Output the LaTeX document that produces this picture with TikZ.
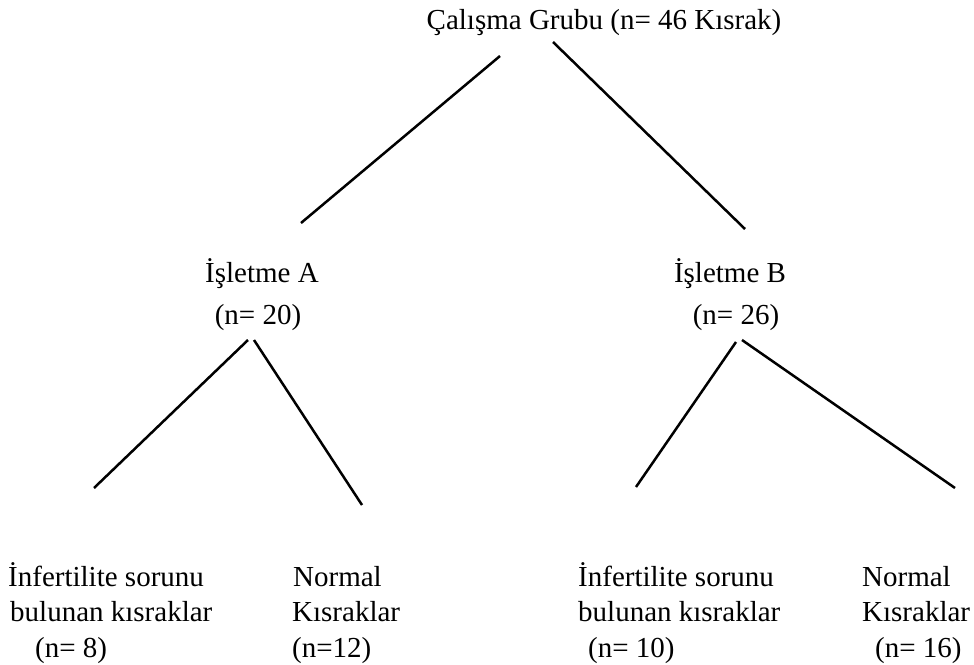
\documentclass[tikz,border=0pt]{standalone}
\usepackage{fontspec}
\setmainfont{Liberation Serif}
\begin{document}
\begin{tikzpicture}[x=1pt, y=-1pt,
    font=\fontsize{29}{34}\selectfont,
    yazi/.style={inner sep=0pt},
    kol/.style={line width=2.5pt}]
    \useasboundingbox (0,0) rectangle (974,664);
    % Çalışma grubu
    \node[yazi, anchor=base] (grup) at (604,29) {Çalışma Grubu (n= 46 Kısrak)};

    % İşletmeler
    \node[yazi, anchor=base] (isA) at (262,282) {İşletme A};
    \node[yazi, anchor=base] (nA) at (258,324) {(n= 20)};
    \node[yazi, anchor=base] (isB) at (730,282) {İşletme B};
    \node[yazi, anchor=base] (nB) at (736,324) {(n= 26)};

    % Alt gruplar, işletme A
    \node[yazi, anchor=base west] (infA1) at (8,586) {İnfertilite sorunu};
    \node[yazi, anchor=base west] (infA2) at (10,621) {bulunan kısraklar};
    \node[yazi, anchor=base west] (infA3) at (35,657) {(n= 8)};
    \node[yazi, anchor=base west] (norA1) at (293,586) {Normal};
    \node[yazi, anchor=base west] (norA2) at (292,621) {Kısraklar};
    \node[yazi, anchor=base west] (norA3) at (292,657) {(n=12)};

    % Alt gruplar, işletme B
    \node[yazi, anchor=base west] (infB1) at (578,586) {İnfertilite sorunu};
    \node[yazi, anchor=base west] (infB2) at (578,621) {bulunan kısraklar};
    \node[yazi, anchor=base west] (infB3) at (588,657) {(n= 10)};
    \node[yazi, anchor=base west] (norB1) at (862,586) {Normal};
    \node[yazi, anchor=base west] (norB2) at (862,621) {Kısraklar};
    \node[yazi, anchor=base west] (norB3) at (875,657) {(n= 16)};

    % Çizgilerin uçları
    \coordinate (g1) at (500,56);
    \coordinate (g2) at (553,42);
    \coordinate (a0) at (301,223);
    \coordinate (b0) at (745,229);
    \coordinate (a1) at (248,340);
    \coordinate (a2) at (254,340);
    \coordinate (b1) at (736,342);
    \coordinate (b2) at (742,340);
    \coordinate (ia) at (94,488);
    \coordinate (na) at (362,505);
    \coordinate (ib) at (636,487);
    \coordinate (nb) at (955,488);

    \draw[kol] (g1) -- (a0);
    \draw[kol] (g2) -- (b0);
    \draw[kol] (a1) -- (ia);
    \draw[kol] (a2) -- (na);
    \draw[kol] (b1) -- (ib);
    \draw[kol] (b2) -- (nb);
\end{tikzpicture}
\end{document}
